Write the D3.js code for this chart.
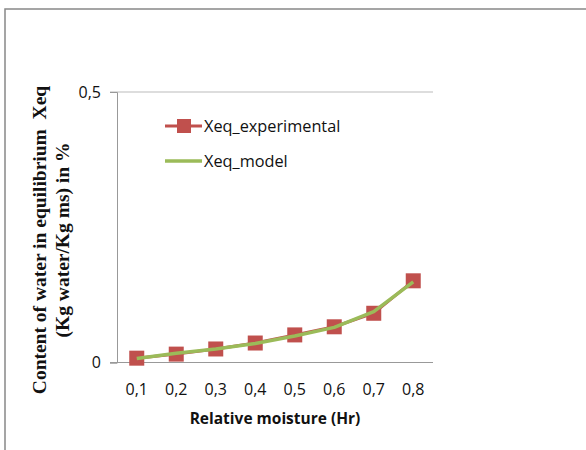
<!DOCTYPE html>
<html><head><meta charset="utf-8">
<script src="https://cdn.jsdelivr.net/npm/d3@7"></script>
<style>body{margin:0;background:#fff}svg{display:block}</style>
</head><body><svg id="c" width="586" height="450"></svg>
<script>
const categories = ["0,1","0,2","0,3","0,4","0,5","0,6","0,7","0,8"];
const experimental = [0.008,0.0155,0.025,0.036,0.051,0.066,0.091,0.151];
const model = [0.0075,0.017,0.025,0.035,0.049,0.065,0.094,0.149];
const yTicks = [0,0.5];
const yTickLabels = ["0","0,5"];

const svg = d3.select("#c");
// outer frame
svg.append("rect").attr("x",5).attr("y",9).attr("width",700).attr("height",600)
  .attr("fill","none").attr("stroke","#888").attr("stroke-width",1.5);

const x = d3.scaleBand().domain(categories).range([117,433]);
const y = d3.scaleLinear().domain([0,0.5]).range([362.5,92]);

// top gridline
svg.append("line").attr("x1",110).attr("x2",433).attr("y1",y(0.5)).attr("y2",y(0.5))
  .attr("stroke","#bbb").attr("stroke-width",1);
// y axis
const ya = svg.append("g").attr("transform","translate(117,0)")
  .call(d3.axisLeft(y).tickValues(yTicks).tickFormat((d,i)=>yTickLabels[i]).tickSize(7).tickPadding(9));
ya.select(".domain").attr("stroke","#999");
ya.selectAll(".tick line").attr("stroke","#999");
ya.selectAll("text").attr("font-family","Open Sans, sans-serif").attr("font-size",16).attr("fill","#111");
// x axis
const xa = svg.append("g").attr("transform",`translate(0,${y(0)})`)
  .call(d3.axisBottom(x).tickSize(0).tickPadding(21));
xa.select(".domain").attr("stroke","#999").attr("d","M110,0H433");
xa.selectAll("text").attr("font-family","Open Sans, sans-serif").attr("font-size",16).attr("fill","#111");

const cx = d => x(d)+x.bandwidth()/2;
const line = d3.line().x((d,i)=>cx(categories[i])).y(d=>y(d));

svg.append("path").datum(experimental).attr("d",line).attr("fill","none")
  .attr("stroke","#C0504D").attr("stroke-width",3);
svg.selectAll("rect.m").data(experimental).enter().append("rect").attr("class","m")
  .attr("x",(d,i)=>cx(categories[i])-7.5).attr("y",d=>y(d)-7.5)
  .attr("width",15).attr("height",15).attr("fill","#C0504D");
svg.append("path").datum(model).attr("d",line).attr("fill","none")
  .attr("stroke","#9BBB59").attr("stroke-width",3.5).attr("stroke-linejoin","round");

// legend
const lg = svg.append("g");
lg.append("line").attr("x1",165).attr("x2",202).attr("y1",126).attr("y2",126).attr("stroke","#C0504D").attr("stroke-width",3);
lg.append("rect").attr("x",177).attr("y",119).attr("width",14).attr("height",14).attr("fill","#C0504D");
lg.append("text").attr("x",204).attr("y",132).text("Xeq_experimental")
  .attr("font-family","Open Sans, sans-serif").attr("font-size",16.3).attr("fill","#111");
lg.append("line").attr("x1",165).attr("x2",202).attr("y1",161).attr("y2",161).attr("stroke","#9BBB59").attr("stroke-width",3.5);
lg.append("text").attr("x",204).attr("y",167).text("Xeq_model")
  .attr("font-family","Open Sans, sans-serif").attr("font-size",16.3).attr("fill","#111");

// x title
svg.append("text").attr("x",275).attr("y",424).attr("text-anchor","middle")
  .attr("font-family","Open Sans, sans-serif").attr("font-weight","bold").attr("font-size",15.5)
  .attr("fill","#111").text("Relative moisture (Hr)");
// y title
const yt = svg.append("text").attr("transform","translate(46,240) rotate(-90)").attr("text-anchor","middle")
  .attr("font-family","Liberation Serif, serif").attr("font-weight","bold").attr("font-size",19.5).attr("fill","#111");
yt.append("tspan").attr("x",0).attr("y",0).text("Content of water in equilibrium  Xeq").attr("xml:space","preserve");
yt.append("tspan").attr("x",0).attr("y",22.5).text("(Kg water/Kg ms) in %");
</script></body></html>
